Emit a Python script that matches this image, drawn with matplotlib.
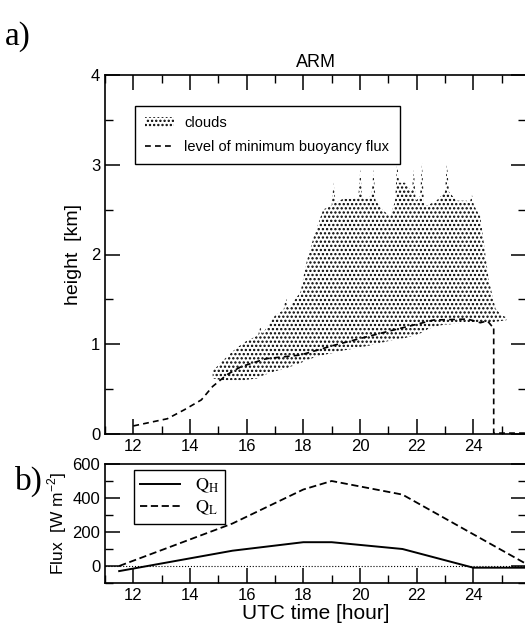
import numpy as np
import matplotlib
matplotlib.use('Agg')
import matplotlib.pyplot as plt
from matplotlib.ticker import MultipleLocator
from matplotlib.patches import Patch
from matplotlib.lines import Line2D

plt.rcParams['font.family'] = ['Liberation Sans', 'DejaVu Sans']
plt.rcParams['mathtext.fontset'] = 'stix'
plt.rcParams['hatch.linewidth'] = 1.1

# ---- panel a: cloud layer (base / top, km) ----
cloud_t = [14.80, 15.10, 15.50, 15.90, 16.40, 16.48, 16.56, 17.00, 17.30, 17.39, 17.47,
           17.90, 18.10, 18.37, 18.70, 19.00, 19.07, 19.14, 19.40, 19.76, 19.94, 20.01,
           20.08, 20.25, 20.41, 20.48, 20.55, 20.80, 21.07, 21.24, 21.31, 21.38, 21.60,
           21.83, 21.90, 21.97, 22.12, 22.19, 22.26, 22.40, 22.70, 23.00, 23.07, 23.14,
           23.40, 23.76, 23.88, 23.95, 24.02, 24.25, 24.54, 24.78, 25.00, 25.19]
cloud_top = [0.70, 0.80, 0.92, 1.02, 1.10, 1.19, 1.12, 1.32, 1.38, 1.53, 1.40,
             1.58, 1.90, 2.20, 2.50, 2.55, 2.80, 2.58, 2.62, 2.62, 2.64, 2.95,
             2.64, 2.62, 2.66, 2.95, 2.60, 2.50, 2.42, 2.60, 3.02, 2.80, 2.80,
             2.70, 2.95, 2.60, 2.65, 3.02, 2.55, 2.55, 2.60, 2.70, 3.02, 2.70,
             2.60, 2.60, 2.58, 2.67, 2.55, 2.42, 1.73, 1.40, 1.32, 1.30]
cloud_base = [0.62, 0.60, 0.60, 0.60, 0.62, 0.63, 0.65, 0.70, 0.72, 0.73, 0.74,
              0.79, 0.82, 0.85, 0.88, 0.90, 0.90, 0.91, 0.93, 0.95, 0.96, 0.97,
              0.97, 0.98, 0.99, 1.00, 1.00, 1.02, 1.04, 1.05, 1.05, 1.06, 1.07,
              1.09, 1.10, 1.10, 1.12, 1.13, 1.14, 1.17, 1.20, 1.22, 1.22, 1.22,
              1.23, 1.24, 1.24, 1.24, 1.24, 1.24, 1.24, 1.25, 1.26, 1.27]

# level of minimum buoyancy flux (km)
lmbf_t = [12.0, 12.6, 13.2, 13.8, 14.4, 14.8, 15.3, 15.8, 16.3, 16.7, 17.9,
          19.1, 20.2, 21.2, 22.1, 22.6, 23.8, 24.25, 24.5, 24.66, 24.72, 24.72, 26.0]
lmbf_h = [0.09, 0.13, 0.17, 0.27, 0.38, 0.53, 0.66, 0.75, 0.80, 0.84, 0.88,
          0.99, 1.08, 1.16, 1.23, 1.27, 1.28, 1.24, 1.26, 1.20, 1.20, 0.01, 0.01]

# ---- panel b: surface fluxes (W m-2) ----
qh_t = [11.5, 15.5, 18.0, 19.0, 21.5, 24.0, 26.0]
qh = [-30, 90, 140, 140, 100, -10, -10]
ql_t = [11.5, 15.5, 18.0, 19.0, 21.5, 26.0]
ql = [0, 250, 450, 500, 420, 0]

W, H = 525, 628
fig = plt.figure(figsize=(W / 100, H / 100), dpi=100)

def box(l, t, r, b):
    return [l / W, 1 - b / H, (r - l) / W, (b - t) / H]

ax = fig.add_axes(box(105, 75, 526, 434))
axb = fig.add_axes(box(105, 464, 526, 583))
XMAX = 25.86

# clouds
ax.fill_between(cloud_t, cloud_base, cloud_top, facecolor='none', edgecolor='black',
                hatch='....', linewidth=0)
ax.plot(lmbf_t, lmbf_h, color='black', ls=(0, (3.5, 2.5)), lw=1.2)
ax.set_xlim(11, XMAX)
ax.set_ylim(0, 4)
ax.xaxis.set_major_locator(MultipleLocator(2))
ax.xaxis.set_minor_locator(MultipleLocator(1))
ax.yaxis.set_major_locator(MultipleLocator(1))
ax.yaxis.set_minor_locator(MultipleLocator(0.5))
ax.tick_params(which='both', direction='in', top=True, right=True, labelsize=12)
ax.tick_params(which='major', length=11, width=1.1)
ax.tick_params(which='minor', length=6, width=1.0)
ax.set_ylabel('height  [km]', fontsize=14, labelpad=6)
ax.set_title('ARM', fontsize=13, pad=6)
for s in ax.spines.values():
    s.set_linewidth(1.2)

handles = [Patch(facecolor='none', edgecolor='black', hatch='....', linewidth=0),
           Line2D([], [], color='black', ls=(0, (3.5, 2.5)), lw=1.2)]
leg = ax.legend(handles, ['clouds', 'level of minimum buoyancy flux'],
                loc='upper left', bbox_to_anchor=(0.071, 0.914), borderaxespad=0,
                fontsize=10.5, fancybox=False, framealpha=1, edgecolor='black',
                handlelength=2.0, handletextpad=0.7, borderpad=0.7, labelspacing=0.7)
leg.get_frame().set_linewidth(1.0)

# fluxes
axb.axhline(0, color='black', ls=':', lw=0.8)
lh, = axb.plot(qh_t, qh, color='black', lw=1.4)
ll, = axb.plot(ql_t, ql, color='black', ls=(0, (4, 2)), lw=1.3)
axb.set_xlim(11, XMAX)
axb.set_ylim(-100, 600)
axb.xaxis.set_major_locator(MultipleLocator(2))
axb.xaxis.set_minor_locator(MultipleLocator(1))
axb.yaxis.set_major_locator(MultipleLocator(200))
axb.yaxis.set_minor_locator(MultipleLocator(100))
axb.tick_params(which='both', direction='in', right=True, labelsize=12)
axb.tick_params(which='major', length=11, width=1.1)
axb.tick_params(which='minor', length=6, width=1.0)
axb.set_ylabel('Flux  [W m$^{\\mathregular{-2}}$]', fontsize=12.5, labelpad=2)
axb.set_xlabel('UTC time [hour]', fontsize=15, labelpad=1)
for s in axb.spines.values():
    s.set_linewidth(1.2)
legb = axb.legend([lh, ll], ['$\\mathrm{Q_H}$', '$\\mathrm{Q_L}$'], loc='upper left',
                  bbox_to_anchor=(0.069, 0.95), borderaxespad=0, fontsize=13,
                  fancybox=False, framealpha=1, edgecolor='black', handlelength=2.2,
                  handletextpad=0.8, borderpad=0.35, labelspacing=0.25)
legb.get_frame().set_linewidth(1.0)

fig.text(5 / W, 1 - 45 / H, 'a)', fontsize=24, family='Liberation Serif')
fig.text(15 / W, 1 - 490 / H, 'b)', fontsize=24, family='Liberation Serif')

fig.savefig('out.png', dpi=100)
